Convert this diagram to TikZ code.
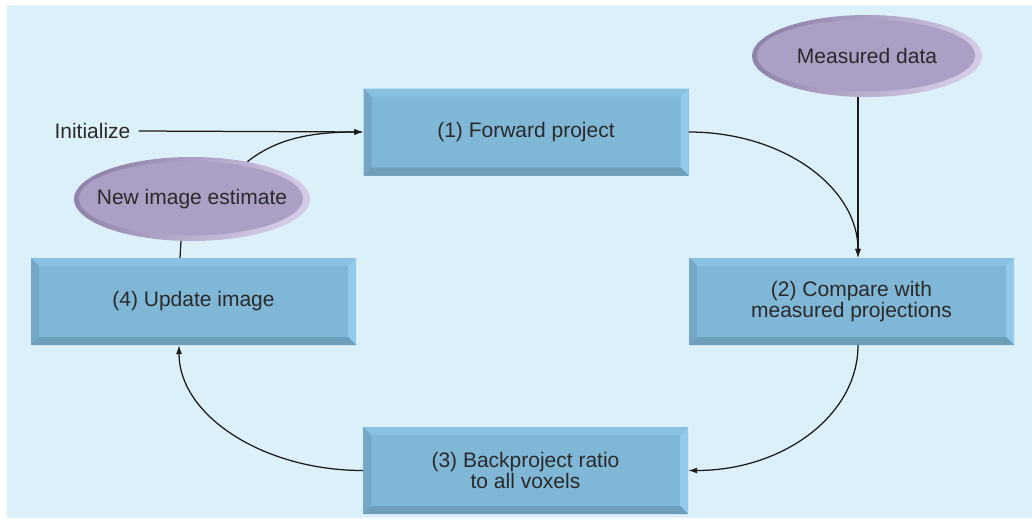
\documentclass[tikz,border=0pt]{standalone}
\usepackage{fontspec}
\setmainfont{Liberation Sans}
\usetikzlibrary{shapes.geometric,arrows.meta}
\definecolor{bg}{HTML}{DCF0F9}
\definecolor{face}{HTML}{80B6D6}
\definecolor{bvtop}{HTML}{89C1E0}
\definecolor{bvright}{HTML}{91CAEA}
\definecolor{bvbottom}{HTML}{6E9EBA}
\definecolor{bvleft}{HTML}{74A7C4}
\definecolor{ellface}{HTML}{AB9FC4}
\definecolor{elldark}{HTML}{9084AA}
\definecolor{elllight}{HTML}{D4CAE6}
\definecolor{txt}{HTML}{2A2A2A}
\definecolor{conncol}{HTML}{1A1A1A}
\begin{document}
\begin{tikzpicture}[x=1pt,y=-1pt,
  bevelbox/.style={rectangle, fill=face, minimum width=325pt, minimum height=87pt,
    inner sep=0pt, align=center, text=txt, font=\fontsize{21}{21}\selectfont,
    path picture={
      \fill[bvtop] (path picture bounding box.north west) -- (path picture bounding box.north east)
        -- ([xshift=-8pt,yshift=-8pt]path picture bounding box.north east)
        -- ([xshift=8pt,yshift=-8pt]path picture bounding box.north west) -- cycle;
      \fill[bvright] (path picture bounding box.north east) -- (path picture bounding box.south east)
        -- ([xshift=-8pt,yshift=8pt]path picture bounding box.south east)
        -- ([xshift=-8pt,yshift=-8pt]path picture bounding box.north east) -- cycle;
      \fill[bvbottom] (path picture bounding box.south east) -- (path picture bounding box.south west)
        -- ([xshift=8pt,yshift=8pt]path picture bounding box.south west)
        -- ([xshift=-8pt,yshift=8pt]path picture bounding box.south east) -- cycle;
      \fill[bvleft] (path picture bounding box.south west) -- (path picture bounding box.north west)
        -- ([xshift=8pt,yshift=-8pt]path picture bounding box.north west)
        -- ([xshift=8pt,yshift=8pt]path picture bounding box.south west) -- cycle;
    }},
  ellnode/.style 2 args={ellipse, inner sep=0pt, minimum width=#1, minimum height=#2,
    left color=elldark, right color=elllight, shading angle=60,
    text=txt, font=\fontsize{21}{21}\selectfont,
    path picture={
      \fill[ellface] ([xshift=-1pt,yshift=0.5pt]path picture bounding box.center)
        ellipse [x radius=#1/2-6pt, y radius=#2/2-5pt];
    }},
  plain/.style={text=txt, font=\fontsize{21}{21}\selectfont, inner sep=0pt},
  conn/.style={draw=conncol, line width=1.25pt, -{Latex[length=9pt,width=6pt]}},
  link/.style={draw=conncol, line width=1.25pt}
]
\useasboundingbox (0,0) rectangle (1032,519);
\fill[white] (0,0) rectangle (1032,519);
\fill[bg] (7,5) rectangle (1032,518);

\node[bevelbox] (b1) at (526,132) {(1) Forward project};
\node[bevelbox] (b2) at (851.5,301.5) {(2) Compare with\\measured projections};
\node[bevelbox] (b3) at (525.5,470.5) {(3) Backproject ratio\\to all voxels};
\node[bevelbox] (b4) at (193.5,301.5) {(4) Update image};

\node[ellnode={230pt}{82pt}] (md) at (867,56) {\makebox[0pt]{Measured data}};
\node[ellnode={236pt}{84pt}] (ne) at (192,199) {\makebox[0pt]{New image estimate}};

\node[plain] (init) at (92.5,131) {Initialize};

\coordinate (m) at ([xshift=6.5pt]b2.north);
\coordinate (mb) at ([xshift=6.5pt]b2.south);
\coordinate (u) at ([xshift=-14.5pt]b4.south);
\coordinate (ut) at ([xshift=-13.5pt]b4.north);

\draw[conn] ([xshift=8pt]init.east) -- (b1.west);
\draw[conn] (ne.34) .. controls +(28,-22) and +(-55,0) .. (b1.west);
\draw[conn] (b1.east) .. controls +(95,0) and +(0,-70) .. (m);
\draw[conn] (md.south -| m) -- (m);
\draw[conn] (mb) .. controls +(0,70) and +(95,0) .. (b3.east);
\draw[conn] (b3.west) .. controls +(-100,0) and +(0,70) .. (u);
\draw[link] (ut) -- ([xshift=-11pt]ne.south);
\end{tikzpicture}
\end{document}
